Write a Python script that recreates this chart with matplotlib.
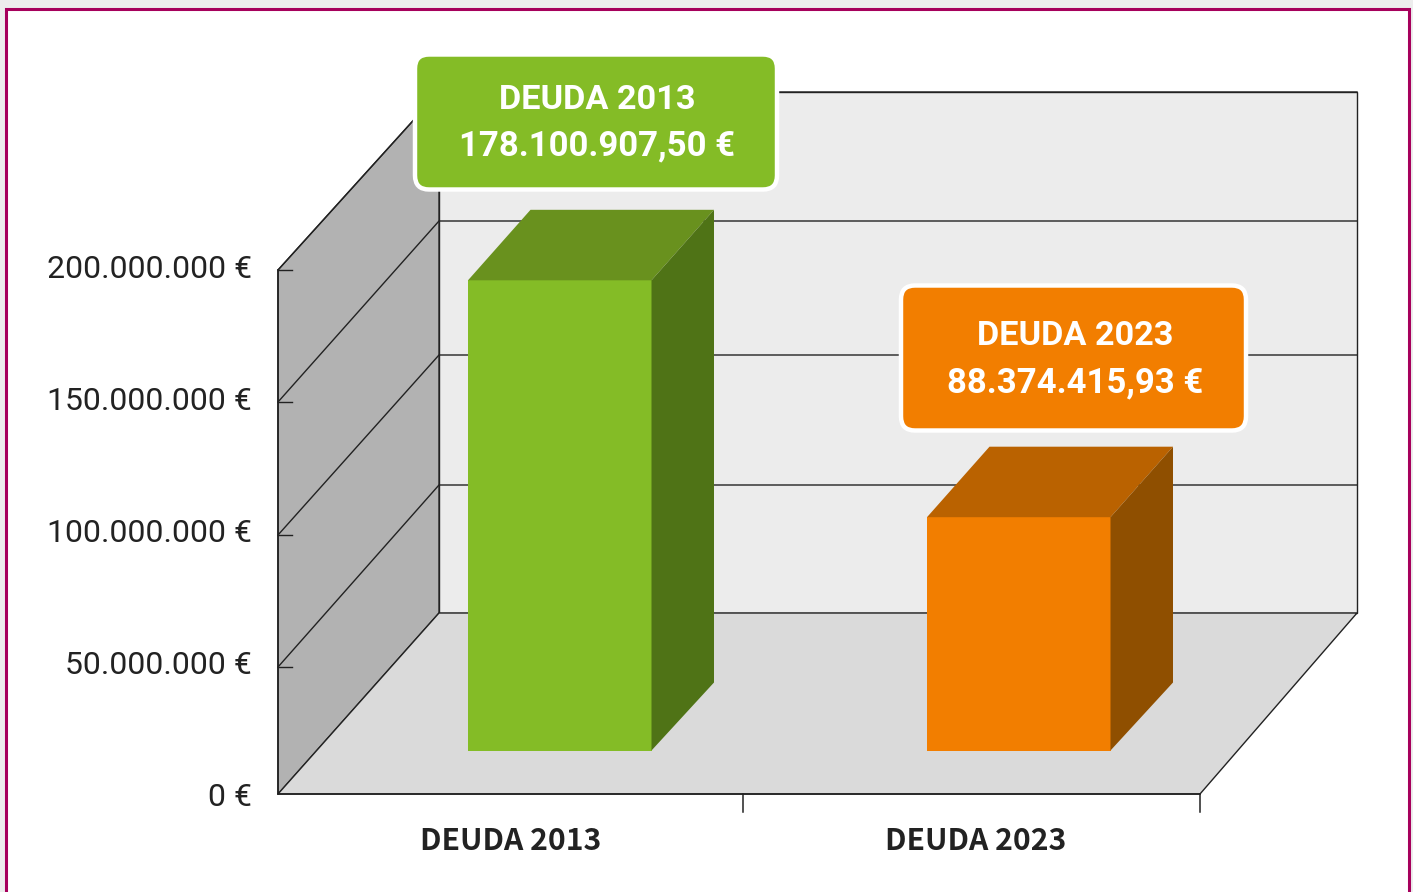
import numpy as np
import matplotlib
matplotlib.use("Agg")
import matplotlib.pyplot as plt
from matplotlib.patches import Polygon, FancyBboxPatch, Rectangle

# Data
categories = ["DEUDA 2013", "DEUDA 2023"]
debt_values = [178100907.50, 88374415.93]
debt_labels = ["178.100.907,50 €", "88.374.415,93 €"]
tick_values = [0, 50000000, 100000000, 150000000, 200000000]
tick_labels = ["0 €", "50.000.000 €", "100.000.000 €", "150.000.000 €", "200.000.000 €"]

face_colors = ["#84BC26", "#F27E00"]
top_colors = ["#69911E", "#BA6200"]
side_colors = ["#4F7316", "#8F4F00"]

# Layout of the fake 3D box, in pixels
FX0, FX1 = 278, 1200      # front edge of floor
BX0, BX1 = 439, 1357      # back wall
FY0, BY0 = 794, 613       # floor front/back
FRONT_TICKS_PX = [799, 667, 535, 402, 270]
BACK_TICKS_PX = [613, 485, 355, 221, 92]
LABEL_Y_PX = [798, 666, 534, 402, 270]
BAR_BASE = 750.5
BAR_LEFT = [468, 927]
BAR_W = 183.5
DX, DY_TOP, DY_BASE = 62.5, 70.5, 68
PX_PER_EURO = 2.64e-6
LINE = "#222222"
LW = 1.0


def front_y(v):
    return min(np.interp(v, tick_values, FRONT_TICKS_PX), FY0)


def back_y(v):
    return np.interp(v, tick_values, BACK_TICKS_PX)


fig = plt.figure(figsize=(14.13, 8.92), dpi=100, facecolor="#EDEDED")
ax = fig.add_axes([0, 0, 1, 1])
ax.set_xlim(0, 1413)
ax.set_ylim(892, 0)
ax.axis("off")
plt.rcParams["font.family"] = ["Roboto", "DejaVu Sans"]

# Page frame
ax.add_patch(Rectangle((6, 9), 1403, 900, fc="white", ec="#A6005C", lw=2.2, zorder=0))

# Walls and floor
top_v = tick_values[-1]
ax.add_patch(Polygon([(BX0, back_y(top_v)), (BX1, back_y(top_v)), (BX1, BY0), (BX0, BY0)],
                     fc="#ECECEC", ec=LINE, lw=LW, zorder=1))
ax.add_patch(Polygon([(FX0, front_y(top_v)), (BX0, back_y(top_v)), (BX0, BY0), (FX0, FY0)],
                     fc="#B2B2B2", ec=LINE, lw=LW, zorder=1))
ax.add_patch(Polygon([(FX0, FY0), (BX0, BY0), (BX1, BY0), (FX1, FY0)],
                     fc="#DADADA", ec=LINE, lw=LW, zorder=1))

# Gridlines and y ticks
for v, lab, ly in zip(tick_values, tick_labels, LABEL_Y_PX):
    if v > 0:
        ax.plot([FX0, BX0, BX1], [front_y(v), back_y(v), back_y(v)], color=LINE, lw=LW, zorder=2)
        ax.plot([FX0, FX0 + 14], [front_y(v), front_y(v)], color=LINE, lw=LW, zorder=2)
    ax.text(252, ly, lab, ha="right", va="center", fontsize=23, color="#222222", zorder=5)

# Front edge and x ticks
ax.plot([FX0, FX0], [front_y(top_v), FY0], color=LINE, lw=1.2, zorder=3)
ax.plot([FX0, FX1], [FY0, FY0], color=LINE, lw=1.2, zorder=3)
for x in [743, FX1]:
    ax.plot([x, x], [FY0, 812], color=LINE, lw=1.1, zorder=3)

# Bars
for i, val in enumerate(debt_values):
    x0 = BAR_LEFT[i]
    x1 = x0 + BAR_W
    ytop = BAR_BASE - val * PX_PER_EURO
    ax.add_patch(Polygon([(x0, BAR_BASE), (x1, BAR_BASE), (x1, ytop), (x0, ytop)],
                         fc=face_colors[i], ec="none", zorder=4))
    ax.add_patch(Polygon([(x0, ytop), (x1, ytop), (x1 + DX, ytop - DY_TOP), (x0 + DX, ytop - DY_TOP)],
                         fc=top_colors[i], ec="none", zorder=4))
    ax.add_patch(Polygon([(x1, BAR_BASE), (x1 + DX, BAR_BASE - DY_BASE), (x1 + DX, ytop - DY_TOP), (x1, ytop)],
                         fc=side_colors[i], ec="none", zorder=4))

# Callout boxes
boxes = [(415, 54.5, 362, 135), (901, 285.5, 345, 145)]
text_x = [597, 1075.5]
text_y = [[100, 146], [336, 383]]
for i, (x, y, w, h) in enumerate(boxes):
    ax.add_patch(FancyBboxPatch((x + 14, y + 14), w - 28, h - 28,
                                boxstyle="round,pad=14,rounding_size=14",
                                fc=face_colors[i], ec="white", lw=3.2, zorder=6))
    ax.text(text_x[i], text_y[i][0], categories[i], ha="center", va="center",
            fontsize=24.7, fontweight="bold", color="white", zorder=7)
    ax.text(text_x[i], text_y[i][1], debt_labels[i], ha="center", va="center",
            fontsize=25, fontweight="bold", color="white", zorder=7)

# Category labels
for lab, x in zip(categories, [511, 976]):
    ax.text(x, 841, lab, ha="center", va="center", fontsize=21.7, fontweight="bold",
            family=["Noto Sans CJK JP", "DejaVu Sans"], color="#222222", zorder=5)

fig.savefig("out.png", dpi=100, facecolor=fig.get_facecolor())
